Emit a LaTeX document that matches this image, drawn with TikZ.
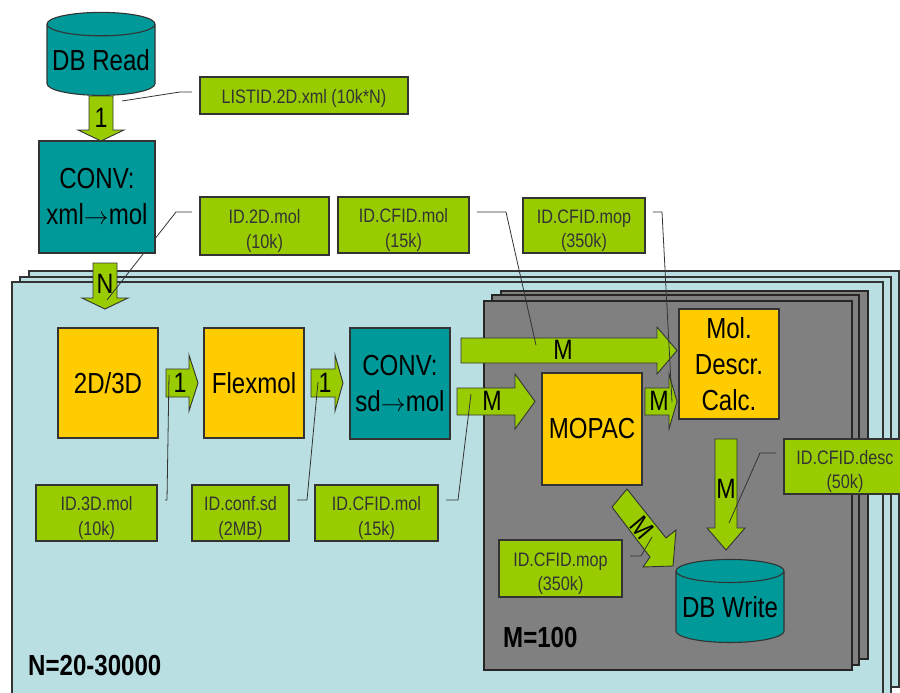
\documentclass[tikz,border=0pt]{standalone}
\usepackage{fontspec}
\setmainfont{Liberation Sans}[FakeStretch=0.83]
\usetikzlibrary{shapes.geometric}

\definecolor{flowgreen}{HTML}{99CC00}
\definecolor{tealbox}{HTML}{009999}
\definecolor{yellowbox}{HTML}{FFCC00}
\definecolor{stackblue}{HTML}{B9DFE3}
\definecolor{stackgray}{HTML}{808080}
\definecolor{edgegray}{HTML}{333333}

% tail, angle, length, head length, shaft width, head width
\newcommand{\flowarrow}[6]{
    \begin{scope}[shift={(#1)}, rotate=#2]
        \draw[flow] (0,-#5/2) -- (#3-#4,-#5/2) -- (#3-#4,-#6/2) -- (#3,0)
            -- (#3-#4,#6/2) -- (#3-#4,#5/2) -- (0,#5/2) -- cycle;
    \end{scope}
}
\newcommand{\convarrow}{{\fontsize{24}{24}\selectfont$\rightarrow$}}
\newcommand{\filestrut}{\rule{0pt}{24pt}}

\begin{document}
\begin{tikzpicture}[
            x=1pt,
            y=-1pt,
            inner sep=0pt,
            font=\fontsize{29}{36}\selectfont,
            flow/.style={draw=edgegray, line width=0.9pt, fill=flowgreen},
            flowlabel/.style={font=\fontsize{28}{34}\selectfont},
            task/.style={draw=edgegray, line width=1.2pt, minimum width=100pt, minimum height=110pt, align=center},
            yellowtask/.style={task, fill=yellowbox},
            tealtask/.style={task, fill=tealbox},
            datafile/.style={draw=edgegray, line width=1.1pt, fill=flowgreen, align=center, text=edgegray, font=\fontsize{19.5}{24.7}\selectfont},
            dbstore/.style={cylinder, shape border rotate=90, aspect=0.24, draw=edgegray, line width=1.1pt, fill=tealbox, minimum width=108pt, minimum height=83pt},
            callout/.style={draw=edgegray, line width=0.8pt},
            bluesheet/.style={draw=edgegray, line width=1.1pt, fill=stackblue},
            graysheet/.style={draw=black!85, line width=1.1pt, fill=stackgray},
            countlabel/.style={anchor=west, font=\fontsize{29}{36}\selectfont\bfseries}
        ]

            \useasboundingbox (0,0) rectangle (900,693);
            \clip (0,0) rectangle (900,693);

            % --- Coordinates ---
            \coordinate (listA) at (192,92);
            \coordinate (listB) at (180,92);
            \coordinate (listC) at (122,101);
            \coordinate (twoA) at (192,212);
            \coordinate (twoB) at (176,212);
            \coordinate (twoC) at (107,300);
            \coordinate (cfidA) at (477,212);
            \coordinate (cfidB) at (506,212);
            \coordinate (cfidC) at (536,345);
            \coordinate (mopA) at (653,212);
            \coordinate (mopB) at (662,212);
            \coordinate (mopC) at (672,402);
            \coordinate (threeA) at (165,500);
            \coordinate (threeB) at (167,500);
            \coordinate (threeC) at (169,375);
            \coordinate (confA) at (297,500);
            \coordinate (confB) at (307,500);
            \coordinate (confC) at (318,382);
            \coordinate (lowA) at (446,500);
            \coordinate (lowB) at (458,500);
            \coordinate (lowC) at (471,394);
            \coordinate (lowmopA) at (630,556);
            \coordinate (lowmopB) at (641,556);
            \coordinate (lowmopC) at (652,537);
            \coordinate (descA) at (776,453);
            \coordinate (descB) at (760,453);
            \coordinate (descC) at (729,523);

            % --- 1. Stacked Sheets ---
            \draw[bluesheet] (29,271) rectangle (899,687);
            \draw[bluesheet] (20,277) rectangle (891,700);
            \draw[bluesheet] (12,282) rectangle (883,710);
            \draw[graysheet] (501,291) rectangle (868,659);
            \draw[graysheet] (492,295) rectangle (859,665);
            \draw[graysheet] (484,301) rectangle (852,670);

            % --- 2. Block Arrows ---
            \flowarrow{101,96}{-90}{45}{11}{24}{46}
            \node[flowlabel] (one1) at (101,118) {1};
            \flowarrow{105,263}{-90}{46}{11}{24}{46}
            \node[flowlabel] (bigN) at (105,284) {N};
            \flowarrow{166,383}{0}{32}{9}{28}{56}
            \node[flowlabel] (one2) at (180,383) {1};
            \flowarrow{311,383}{0}{32}{8}{28}{56}
            \node[flowlabel] (one3) at (325,383) {1};
            \flowarrow{461,350.5}{0}{216}{20}{25}{47}
            \node[flowlabel] (emA) at (563,350) {M};
            \flowarrow{457,401.5}{0}{78}{20}{27}{55}
            \node[flowlabel] (emB) at (492,401) {M};
            \flowarrow{645,401.5}{0}{32}{8}{27}{55}
            \node[flowlabel] (emC) at (659,401) {M};
            \flowarrow{726,439}{-90}{111}{22}{22}{38}
            \node[flowlabel] (emD) at (726,489) {M};
            \draw[flow] (627,489) -- (666,538) -- (676,530) -- (673,566) -- (643,567) -- (650,557) -- (612,507) -- cycle;
            \node[flowlabel, rotate=-50] (emE) at (642,528) {M};

            % --- 3. Callout Lines ---
            \draw[callout] (listA) -- (listB) -- (listC);
            \draw[callout] (twoA) -- (twoB) -- (twoC);
            \draw[callout] (cfidA) -- (cfidB) -- (cfidC);
            \draw[callout] (mopA) -- (mopB) -- (mopC);
            \draw[callout] (threeA) -- (threeB) -- (threeC);
            \draw[callout] (confA) -- (confB) -- (confC);
            \draw[callout] (lowA) -- (lowB) -- (lowC);
            \draw[callout] (lowmopA) -- (lowmopB) -- (lowmopC);
            \draw[callout] (descA) -- (descB) -- (descC);

            % --- 4. Tasks ---
            \node[dbstore] (dbread) at (101,60) {DB Read};
            \node[tealtask, minimum width=116pt, minimum height=112pt] (convxml) at (97,197) {CONV:\\xml\convarrow mol};
            \node[yellowtask] (twothree) at (108,383) {2D/3D};
            \node[yellowtask] (flexmol) at (254,383) {Flexmol};
            \node[tealtask, minimum height=111pt] (convsd) at (400,383.5) {CONV:\\sd\convarrow mol};
            \node[yellowtask, minimum height=112pt] (mopac) at (592,429) {MOPAC};
            \node[yellowtask] (moldescr) at (729,364) {Mol.\\Descr.\\Calc.};
            \node[dbstore] (dbwrite) at (730,607) {DB Write};

            % --- 5. Data Files ---
            \node[datafile, minimum width=208pt, minimum height=37pt] (listfile) at (304,95.5) {\rule{0pt}{20pt}LISTID.2D.xml (10k*N)};
            \node[datafile, minimum width=129pt, minimum height=58pt] (twofile) at (264.5,226) {\filestrut ID.2D.mol\\(10k)};
            \node[datafile, minimum width=131pt, minimum height=56pt] (cfidfile) at (403.5,225) {\filestrut ID.CFID.mol\\(15k)};
            \node[datafile, minimum width=122pt, minimum height=55pt] (mopfile) at (584,225.5) {\filestrut ID.CFID.mop\\(350k)};
            \node[datafile, minimum width=121pt, minimum height=56pt] (threefile) at (96.5,513) {\filestrut ID.3D.mol\\(10k)};
            \node[datafile, minimum width=97pt, minimum height=56pt] (conffile) at (240.5,513) {\filestrut ID.conf.sd\\(2MB)};
            \node[datafile, minimum width=123pt, minimum height=56pt] (lowfile) at (376.5,513) {\filestrut ID.CFID.mol\\(15k)};
            \node[datafile, minimum width=123pt, minimum height=57pt] (lowmopfile) at (560.5,568.5) {\filestrut ID.CFID.mop\\(350k)};
            \node[datafile, minimum width=122pt, minimum height=55pt] (descfile) at (845,466.5) {\filestrut ID.CFID.desc\\(50k)};

            % --- 6. Counts ---
            \node[countlabel] (ncount) at (28,666) {N=20-30000};
            \node[countlabel] (mcount) at (503,638) {M=100};

        \end{tikzpicture}
\end{document}
